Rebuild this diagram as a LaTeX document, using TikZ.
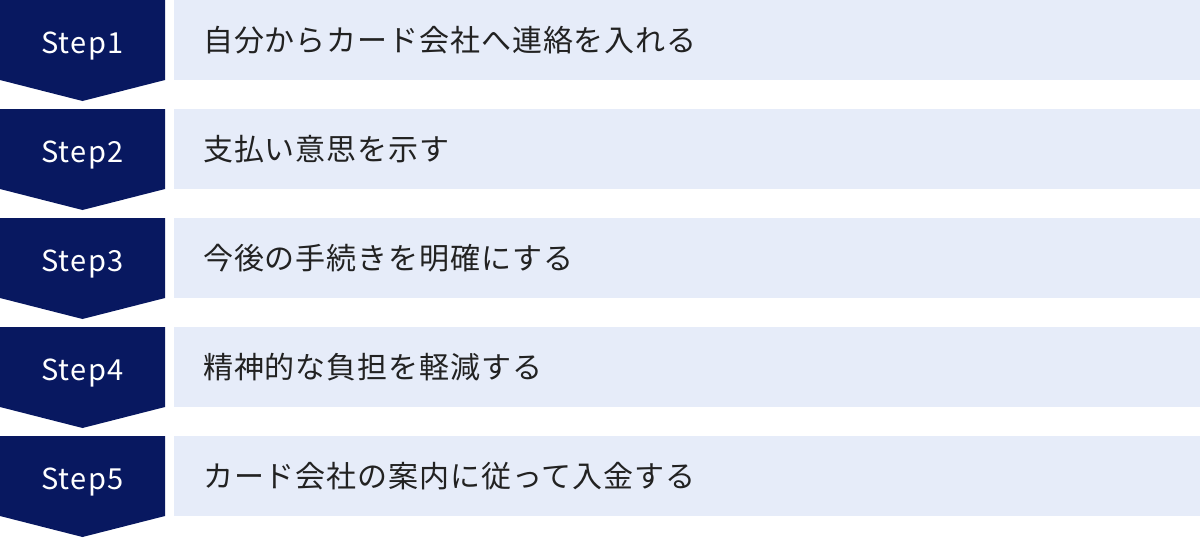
\documentclass[tikz,border=0pt]{standalone}
\usepackage{fontspec}
\setmainfont{Noto Sans}
\newfontfamily\jpfont{Noto Sans CJK JP}
\usetikzlibrary{positioning}
\definecolor{navy}{HTML}{081860}
\definecolor{paleblue}{HTML}{E6ECF9}
\definecolor{inkgray}{HTML}{222222}

\begin{document}
\begin{tikzpicture}[
    x=1pt, y=-1pt,
    stepmark/.style={fill=navy},
    steplabel/.style={text=white, anchor=base, inner sep=0pt, font=\jpfont\fontsize{29}{34}\selectfont\addfontfeature{LetterSpace=5}},
    itembox/.style={rectangle, fill=paleblue, anchor=north west, minimum height=80pt, text width=968pt, inner xsep=29pt, inner ysep=0pt, align=left, text=inkgray, font=\jpfont\fontsize{30}{34}\selectfont\addfontfeature{LetterSpace=3}}
]
\useasboundingbox (0,0) rectangle (1200,538);

% Steps and their boxes
\foreach \i/\txt in {1/{自分からカード会社へ連絡を入れる}, 2/{支払い意思を示す}, 3/{今後の手続きを明確にする}, 4/{精神的な負担を軽減する}, 5/{カード会社の案内に従って入金する}} {
  \pgfmathsetmacro\top{(\i-1)*109}
  \fill[stepmark] (0,\top) -- (165,\top) -- (165,\top+80) -- (82.5,\top+101) -- (0,\top+80) -- cycle;
  \node[steplabel] (step\i) at (82.5,\top+53) {Step\i};
  \node[itembox] (item\i) at (174,\top) {\txt};
}

\end{tikzpicture}
\end{document}
